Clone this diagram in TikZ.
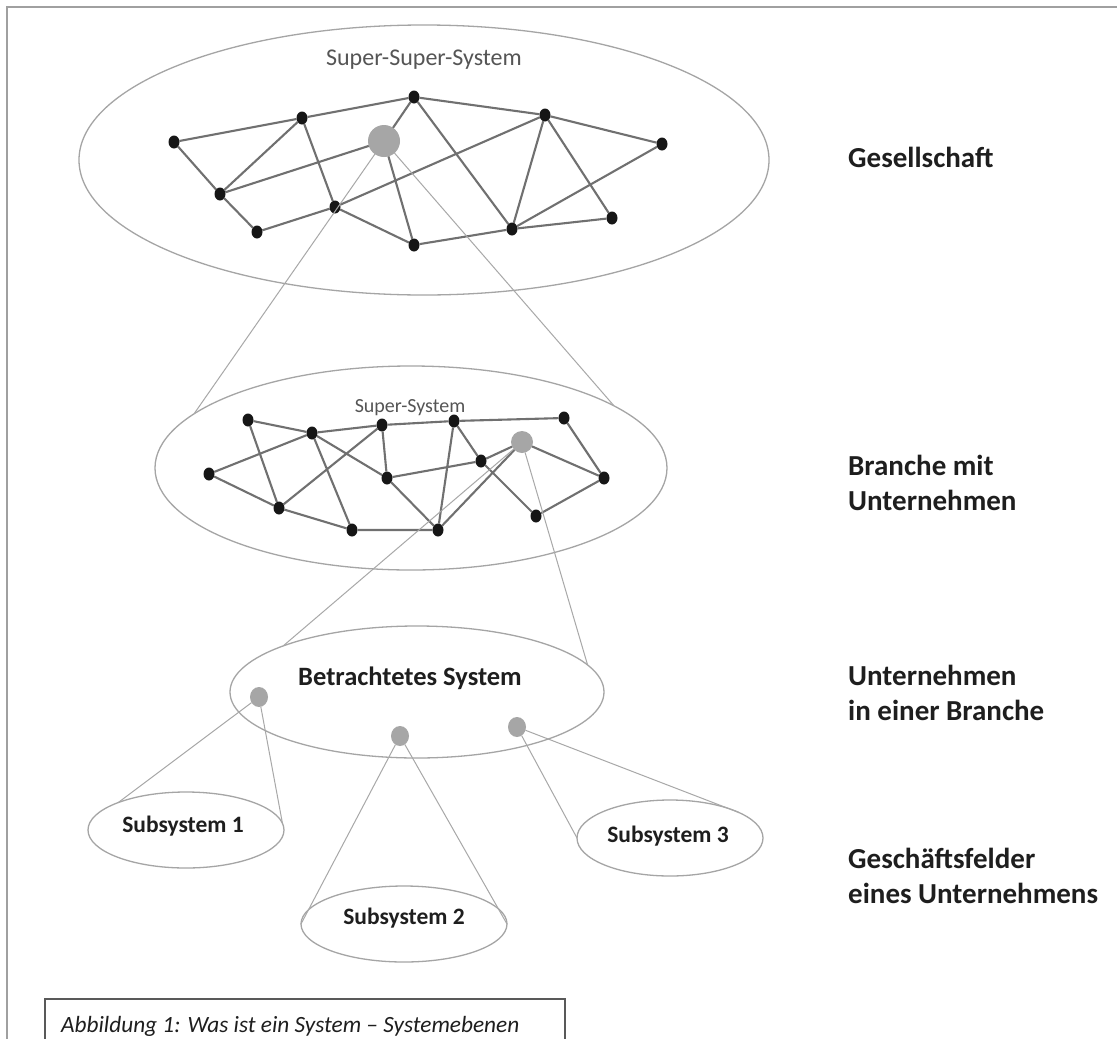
\documentclass[tikz,border=0pt]{standalone}
\usepackage{fontspec}
\setmainfont{Carlito}
\usetikzlibrary{shapes.geometric}
\definecolor{edgec}{RGB}{112,112,112}
\definecolor{ellc}{RGB}{165,165,165}
\definecolor{projc}{RGB}{168,168,168}
\definecolor{dotc}{RGB}{22,22,22}
\definecolor{gdotc}{RGB}{166,166,166}
\definecolor{txtc}{RGB}{30,30,30}
\definecolor{stxt}{RGB}{85,85,85}
\definecolor{framec}{RGB}{160,160,160}
\begin{document}
\begin{tikzpicture}[x=1pt,y=-1pt,
  dotnode/.style={ellipse,fill=dotc,minimum width=11pt,minimum height=13pt,inner sep=0pt,outer sep=0pt},
  gdot/.style={circle,fill=gdotc,inner sep=0pt,outer sep=0pt},
  sysell/.style={ellipse,draw=ellc,line width=1.3pt,inner sep=0pt,outer sep=0pt},
  net/.style={draw=edgec,line width=2.1pt},
  proj/.style={draw=projc,line width=1pt},
  lvl/.style={anchor=base west,inner sep=0pt,text=txtc,font=\fontsize{29}{35}\selectfont\bfseries},
  subtxt/.style={inner sep=0pt,text=txtc,font=\fontsize{23.5}{28}\selectfont\bfseries}
]
\useasboundingbox (0,0) rectangle (1117,1039);
\fill[white] (0,0) rectangle (1117,1039);
% frame
\coordinate (fr1) at (7,1045);
\coordinate (fr2) at (7,7);
\coordinate (fr3) at (1120,7);
\draw[framec,line width=1.5pt] (fr1) -- (fr2) -- (fr3);

% system ellipses
\node[sysell,minimum width=690pt,minimum height=270pt] (E1) at (424,160) {};
\node[sysell,minimum width=512pt,minimum height=204pt] (E2) at (411,468) {};
\node[sysell,minimum width=374pt,minimum height=132pt] (E3) at (417,692) {};
\node[sysell,minimum width=196pt,minimum height=76pt] (S1) at (186,830) {};
\node[sysell,minimum width=206pt,minimum height=76pt] (S2) at (404,924) {};
\node[sysell,minimum width=186pt,minimum height=76pt] (S3) at (670,838) {};

% labels in ellipses
\node[inner sep=0pt,text=stxt,font=\fontsize{24}{29}\selectfont] (t1) at (424,60) {Super-Super-System};
\node[inner sep=0pt,text=stxt,font=\fontsize{20}{24}\selectfont] (t2) at (410,408) {Super-System};
\node[inner sep=0pt,text=txtc,font=\fontsize{26.5}{32}\selectfont\bfseries] (t3) at (410,678) {Betrachtetes System};
\node[subtxt] (ts1) at (183,826) {Subsystem 1};
\node[subtxt] (ts2) at (404,918) {Subsystem 2};
\node[subtxt] (ts3) at (668,836) {Subsystem 3};

% top network
\node[dotnode] (n1) at (174,142) {};
\node[dotnode] (n2) at (302,118) {};
\node[dotnode] (n3) at (414,97) {};
\node[dotnode] (n4) at (545,115) {};
\node[dotnode] (n5) at (662,144) {};
\node[dotnode] (n6) at (220,194) {};
\node[dotnode] (n7) at (335,207) {};
\node[dotnode] (n8) at (257,232) {};
\node[dotnode] (n9) at (414,245) {};
\node[dotnode] (n10) at (512,229) {};
\node[dotnode] (n11) at (612,218) {};
\node[gdot,minimum size=32pt] (G) at (384,141) {};
\draw[net] (n1)--(n2) (n2)--(n3) (n3)--(n4) (n4)--(n5)
  (n1)--(n6) (n6)--(n2) (n2)--(n7) (n6)--(G) (G)--(n3) (G)--(n9)
  (n6)--(n8) (n8)--(n7) (n7)--(n4) (n7)--(n9) (n9)--(n10)
  (n3)--(n10) (n4)--(n10) (n4)--(n11) (n10)--(n5) (n10)--(n11);

% middle network
\node[dotnode] (m1) at (248,420) {};
\node[dotnode] (m2) at (312,433) {};
\node[dotnode] (m3) at (382,425) {};
\node[dotnode] (m4) at (454,421) {};
\node[dotnode] (m5) at (564,418) {};
\node[dotnode] (m6) at (209,474) {};
\node[dotnode] (m7) at (279,508) {};
\node[dotnode] (m8) at (352,530) {};
\node[dotnode] (m9) at (387,478) {};
\node[dotnode] (m10) at (438,530) {};
\node[dotnode] (m11) at (481,461) {};
\node[dotnode] (m12) at (604,478) {};
\node[dotnode] (m13) at (536,516) {};
\node[gdot,minimum size=22pt] (G2) at (522,442) {};
\draw[net] (m1)--(m2) (m1)--(m7) (m2)--(m3) (m3)--(m4) (m4)--(m5)
  (m6)--(m2) (m6)--(m7) (m7)--(m3) (m7)--(m8) (m2)--(m8) (m2)--(m9)
  (m3)--(m9) (m9)--(m11) (m9)--(m10) (m8)--(m10) (m4)--(m10) (m4)--(m11)
  (m11)--(G2) (G2)--(m10) (m11)--(m13) (m13)--(m12) (m5)--(m12) (G2)--(m12);

% dots in the considered system
\node[gdot,minimum width=18pt,minimum height=20pt,ellipse] (d1) at (259,697) {};
\node[gdot,minimum width=18pt,minimum height=20pt,ellipse] (d2) at (400,736) {};
\node[gdot,minimum width=18pt,minimum height=20pt,ellipse] (d3) at (517,727) {};

% projection lines
\draw[proj] (G) -- (E2.166);
\draw[proj] (G) -- (E2.17);
\draw[proj] (G2) -- (E3.161);
\draw[proj] (G2) -- (E3.9);
\draw[proj] (d1) -- (S1.158);
\draw[proj] (d1) -- (S1.4);
\draw[proj] (d2) -- (S2.west);
\draw[proj] (d2) -- (S2.east);
\draw[proj] (d3) -- (S3.west);
\draw[proj] (d3) -- (S3.20);

% level labels
\node[lvl] (l1) at (848,167) {Gesellschaft};
\node[lvl] (l2a) at (848,475) {Branche mit};
\node[lvl] (l2b) at (848,510) {Unternehmen};
\node[lvl] (l3a) at (848,685) {Unternehmen};
\node[lvl] (l3b) at (848,720) {in einer Branche};
\node[lvl] (l4a) at (848,868) {Geschäftsfelder};
\node[lvl] (l4b) at (848,903) {eines Unternehmens};

% caption
\coordinate (cb1) at (45,1050);
\coordinate (cb2) at (45,999);
\coordinate (cb3) at (565,999);
\coordinate (cb4) at (565,1050);
\draw[black!65,line width=1.5pt] (cb1) -- (cb2) -- (cb3) -- (cb4);
\node[anchor=base west,inner sep=0pt,text=txtc,font=\fontsize{23.3}{28}\selectfont\itshape] (cap) at (61,1032) {Abbildung 1: Was ist ein System – Systemebenen};
\end{tikzpicture}
\end{document}
